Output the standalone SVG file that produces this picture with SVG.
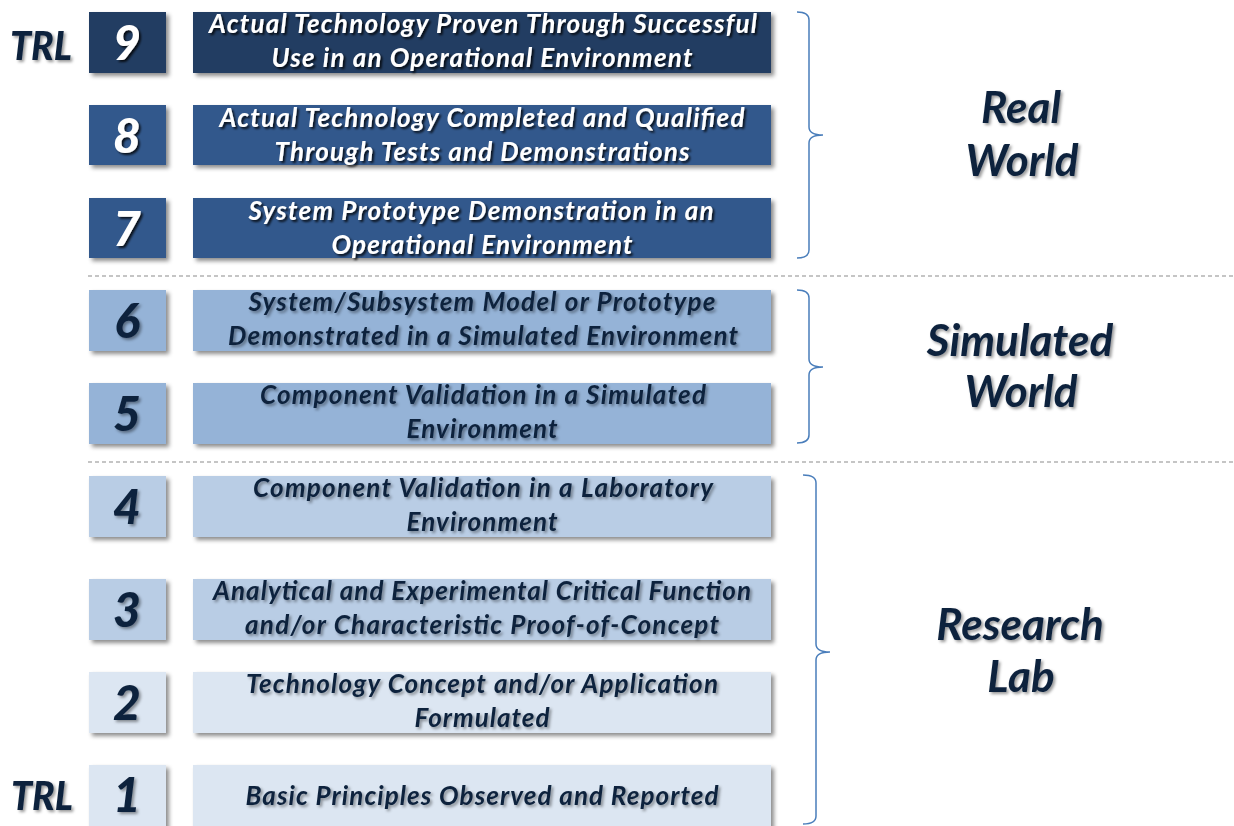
<svg xmlns="http://www.w3.org/2000/svg" width="1234" height="826" viewBox="0 0 1234 826">
<defs>
<filter id="bs" x="-10%" y="-20%" width="130%" height="150%">
<feDropShadow dx="3" dy="3" stdDeviation="2" flood-color="#000" flood-opacity="0.45"/>
</filter>
<filter id="tsw" x="-10%" y="-30%" width="130%" height="170%">
<feDropShadow dx="2" dy="2" stdDeviation="1.3" flood-color="#000" flood-opacity="0.8"/>
</filter>
<filter id="tsd" x="-10%" y="-30%" width="130%" height="170%">
<feDropShadow dx="2" dy="2" stdDeviation="1.5" flood-color="#000" flood-opacity="0.4"/>
</filter>
<style>
.t{font-family:Lato,"Liberation Sans",sans-serif;font-weight:900;font-style:italic;text-anchor:middle}
.d{font-size:26px;font-weight:bold}
.n{font-size:48px}
.w{fill:#fff;filter:url(#tsw)}
.k{fill:#0f243e;filter:url(#tsd)}
.c9{fill:#213c62}
.c8{fill:#30598c}
.c6{fill:#95b3d7}
.c4{fill:#b9cde5}
.c2{fill:#dce6f2}
.box{filter:url(#bs)}
.brace{fill:none;stroke:#4a7ebb;stroke-width:1.5}
.dash{stroke:#8c8c8c;stroke-width:1.2;stroke-dasharray:4 3}
.big{font-size:44px;font-weight:bold}
</style>
</defs>
<rect width="1234" height="826" fill="#fff"/>

<g id="separators">
<line class="dash" x1="88" y1="276" x2="1234" y2="276"/>
<line class="dash" x1="88" y1="462" x2="1234" y2="462"/>
</g>

<g id="connectors">
<path class="brace" d="M797,12 Q809,12 809,20 L809,127 Q809,135 823,135 Q809,135 809,143 L809,250 Q809,258 797,258"/>
<path class="brace" d="M797,290 Q809,290 809,298 L809,359 Q809,367 823,367 Q809,367 809,375 L809,435 Q809,443 797,443"/>
<path class="brace" d="M803,475 Q816,475 816,483 L816,644 Q816,652 830,652 Q816,652 816,660 L816,816 Q816,824 803,824"/>
</g>

<g id="trl-labels">
<text class="t k" x="41" y="60" font-size="40" textLength="62" lengthAdjust="spacingAndGlyphs">TRL</text>
<text class="t k" x="42" y="810" font-size="40" textLength="62" lengthAdjust="spacingAndGlyphs">TRL</text>
</g>

<g id="trl9">
<rect class="box c9" x="89" y="12" width="77" height="61"/>
<rect class="box c9" x="193" y="12" width="578" height="61"/>
<text class="t n w" x="127" y="60">9</text>
<text class="t d w" x="483" y="33" textLength="548" lengthAdjust="spacing">Actual Technology Proven Through Successful</text>
<text class="t d w" x="482" y="67" textLength="421" lengthAdjust="spacing">Use in an Operational Environment</text>
</g>

<g id="trl8">
<rect class="box c8" x="89" y="105" width="77" height="60"/>
<rect class="box c8" x="193" y="105" width="578" height="60"/>
<text class="t n w" x="127" y="153">8</text>
<text class="t d w" x="482" y="127" textLength="525" lengthAdjust="spacing">Actual Technology Completed and Qualified</text>
<text class="t d w" x="482" y="161" textLength="415" lengthAdjust="spacing">Through Tests and Demonstrations</text>
</g>

<g id="trl7">
<rect class="box c8" x="89" y="198" width="77" height="60"/>
<rect class="box c8" x="193" y="198" width="578" height="60"/>
<text class="t n w" x="127" y="246">7</text>
<text class="t d w" x="481" y="220" textLength="465" lengthAdjust="spacing">System Prototype Demonstration in an</text>
<text class="t d w" x="482" y="254" textLength="301" lengthAdjust="spacing">Operational Environment</text>
</g>

<g id="trl6">
<rect class="box c6" x="89" y="290" width="77" height="61"/>
<rect class="box c6" x="193" y="290" width="578" height="61"/>
<text class="t n k" x="127" y="338">6</text>
<text class="t d k" x="482" y="311" textLength="467" lengthAdjust="spacing">System/Subsystem Model or Prototype</text>
<text class="t d k" x="483" y="345" textLength="510" lengthAdjust="spacing">Demonstrated in a Simulated Environment</text>
</g>

<g id="trl5">
<rect class="box c6" x="89" y="383" width="77" height="61"/>
<rect class="box c6" x="193" y="383" width="578" height="61"/>
<text class="t n k" x="127" y="431">5</text>
<text class="t d k" x="483" y="404" textLength="446" lengthAdjust="spacing">Component Validation in a Simulated</text>
<text class="t d k" x="482" y="438" textLength="151" lengthAdjust="spacing">Environment</text>
</g>

<g id="trl4">
<rect class="box c4" x="89" y="476" width="77" height="61"/>
<rect class="box c4" x="193" y="476" width="578" height="61"/>
<text class="t n k" x="127" y="524">4</text>
<text class="t d k" x="483" y="497" textLength="460" lengthAdjust="spacing">Component Validation in a Laboratory</text>
<text class="t d k" x="482" y="531" textLength="151" lengthAdjust="spacing">Environment</text>
</g>

<g id="trl3">
<rect class="box c4" x="89" y="579" width="77" height="61"/>
<rect class="box c4" x="193" y="579" width="578" height="61"/>
<text class="t n k" x="127" y="627">3</text>
<text class="t d k" x="482" y="600" textLength="538" lengthAdjust="spacing">Analytical and Experimental Critical Function</text>
<text class="t d k" x="482" y="634" textLength="474" lengthAdjust="spacing">and/or Characteristic Proof-of-Concept</text>
</g>

<g id="trl2">
<rect class="box c2" x="89" y="672" width="77" height="61"/>
<rect class="box c2" x="193" y="672" width="578" height="61"/>
<text class="t n k" x="127" y="720">2</text>
<text class="t d k" x="482" y="693" textLength="472" lengthAdjust="spacing">Technology Concept and/or Application</text>
<text class="t d k" x="482" y="727" textLength="135" lengthAdjust="spacing">Formulated</text>
</g>

<g id="trl1">
<rect class="box c2" x="89" y="765" width="77" height="64"/>
<rect class="box c2" x="193" y="765" width="578" height="64"/>
<text class="t n k" x="127" y="812">1</text>
<text class="t d k" x="482" y="805" textLength="473" lengthAdjust="spacing">Basic Principles Observed and Reported</text>
</g>

<g id="section-real">
<text class="t big k" x="1021" y="123">Real</text>
<text class="t big k" x="1022" y="176">World</text>
</g>
<g id="section-simulated">
<text class="t big k" x="1020" y="356">Simulated</text>
<text class="t big k" x="1021" y="407">World</text>
</g>
<g id="section-research">
<text class="t big k" x="1020" y="640">Research</text>
<text class="t big k" x="1021" y="692">Lab</text>
</g>
</svg>
